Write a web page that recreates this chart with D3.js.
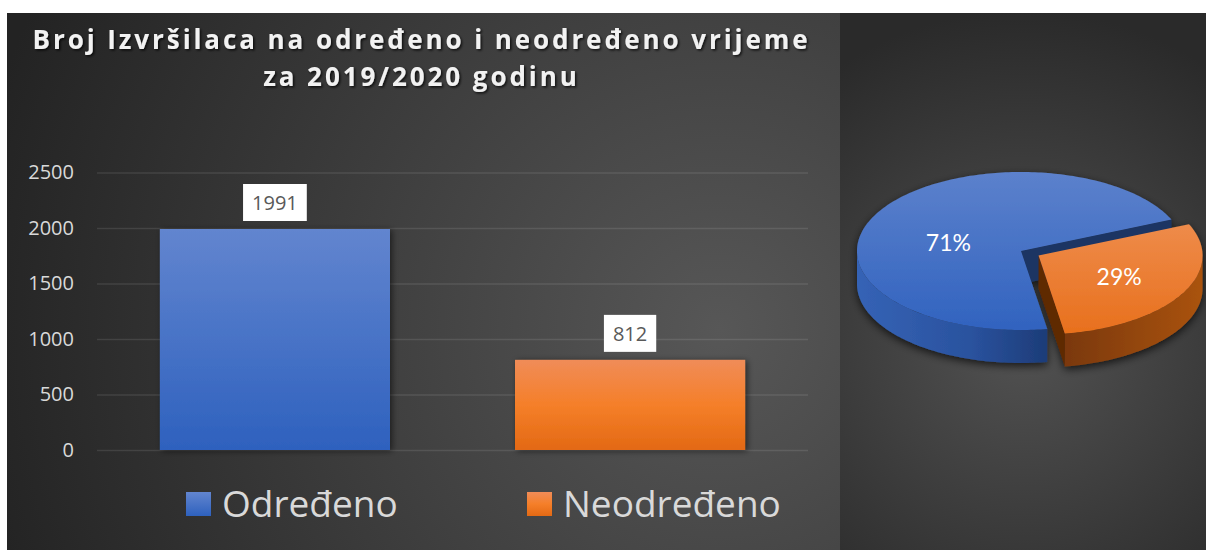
<!DOCTYPE html>
<html><head><meta charset="utf-8">
<script src="https://cdn.jsdelivr.net/npm/d3@7"></script>
<style>html,body{margin:0;padding:0;background:#fff;overflow:hidden}</style>
</head><body>
<svg id="chart" width="1206" height="550"></svg>
<script>
// ---- data ----
const titleLines = ["Broj Izvršilaca na određeno i neodređeno vrijeme", "za 2019/2020 godinu"];
const categories = ["Određeno", "Neodređeno"];
const values = [1991, 812];
const yTicks = [0, 500, 1000, 1500, 2000, 2500];
const pieLabels = ["71%", "29%"];

const svg = d3.select("#chart");
const defs = svg.append("defs");

function lin(id, stops, x2, y2) {
  const g = defs.append("linearGradient").attr("id", id)
    .attr("x1", 0).attr("y1", 0).attr("x2", x2).attr("y2", y2);
  stops.forEach(s => g.append("stop").attr("offset", s[0]).attr("stop-color", s[1]));
}
function rad(id, cx, cy, r, c0, c1) {
  const g = defs.append("radialGradient").attr("id", id).attr("gradientUnits", "userSpaceOnUse")
    .attr("cx", cx).attr("cy", cy).attr("r", r);
  g.append("stop").attr("offset", 0).attr("stop-color", c0);
  g.append("stop").attr("offset", 1).attr("stop-color", c1);
}
rad("bgL", 720, 330, 760, "#575757", "#232323");
rad("bgR", 1023, 340, 330, "#525252", "#2a2a2a");
lin("gBlue", [[0, "#6285cf"], [1, "#2e61be"]], 0, 1);
lin("gOrange", [[0, "#f08c58"], [0.5, "#f57f29"], [1, "#e36914"]], 0, 1);
lin("gBlueTop", [[0, "#5c81cc"], [1, "#3163bf"]], 0, 1);
lin("gOrangeTop", [[0, "#ee8b4a"], [1, "#e8701d"]], 0, 1);
lin("gBlueWall", [[0, "#3563b6"], [0.6, "#2a529e"], [1, "#1d3c78"]], 1, 0);
lin("gOrangeWall", [[0, "#7a380a"], [1, "#aa5310"]], 1, 0);

function shadow(id, dx, dy, sd, op) {
  const f = defs.append("filter").attr("id", id)
    .attr("x", "-20%").attr("y", "-20%").attr("width", "140%").attr("height", "140%");
  f.append("feDropShadow").attr("dx", dx).attr("dy", dy).attr("stdDeviation", sd)
    .attr("flood-color", "#000").attr("flood-opacity", op);
}
shadow("shTitle", 1.5, 1.5, 1.2, 0.75);
shadow("shBar", 2, 1, 3, 0.55);
shadow("shPie", 0, 3, 4, 0.7);

// ---- panels ----
svg.append("rect").attr("x", 7).attr("y", 13).attr("width", 833).attr("height", 537).attr("fill", "url(#bgL)");
svg.append("rect").attr("x", 840).attr("y", 13).attr("width", 366).attr("height", 537).attr("fill", "url(#bgR)");

// ---- title ----
const title = svg.append("g").attr("filter", "url(#shTitle)")
  .attr("font-family", "'Open Sans', sans-serif").attr("font-weight", 700)
  .attr("font-size", 26).attr("fill", "#f2f2f2").attr("text-anchor", "middle");
const t1 = title.append("text").attr("x", 420).attr("y", 49).text(titleLines[0]);
const w0 = t1.node().getComputedTextLength();
const ls = (775 - w0) / (titleLines[0].length - 1);
t1.attr("letter-spacing", ls).attr("x", 420 + ls / 2);
title.append("text").attr("x", 420 + ls / 2).attr("y", 86).attr("letter-spacing", ls).text(titleLines[1]);

// ---- bar chart ----
const y = d3.scaleLinear().domain([0, 2500]).range([450, 172.5]);
const x = d3.scaleBand().domain(categories).range([97, 808]).paddingInner(0.352).paddingOuter(0.177);

const axis = svg.append("g").attr("transform", "translate(97,0)")
  .call(d3.axisLeft(y).tickValues(yTicks).tickFormat(d3.format("d")).tickSize(-711).tickPadding(23));
axis.select(".domain").remove();
axis.selectAll(".tick line").attr("stroke", "#fff").attr("stroke-opacity", 0.1).attr("stroke-width", 1.6);
axis.selectAll(".tick text").attr("fill", "#d9d9d9").attr("font-size", 20)
  .attr("font-family", "'Open Sans', sans-serif");

const barFills = ["url(#gBlue)", "url(#gOrange)"];
svg.append("g").attr("filter", "url(#shBar)").selectAll("rect").data(values).join("rect")
  .attr("x", (d, i) => x(categories[i])).attr("width", x.bandwidth())
  .attr("y", d => y(d)).attr("height", d => y(0) - y(d))
  .attr("fill", (d, i) => barFills[i]);

const lbl = svg.append("g").selectAll("g").data(values).join("g");
lbl.each(function (d, i) {
  const g = d3.select(this);
  const cxl = x(categories[i]) + x.bandwidth() / 2;
  const cyl = y(d) - 8 - 18.5;
  const r = g.append("rect").attr("fill", "#fff");
  const t = g.append("text").attr("x", cxl).attr("y", cyl).attr("dy", "0.36em")
    .attr("text-anchor", "middle").attr("font-family", "'Open Sans', sans-serif")
    .attr("font-size", 20).attr("fill", "#595959").text(d);
  const w = t.node().getComputedTextLength() + 18;
  r.attr("x", cxl - w / 2).attr("y", cyl - 18.5).attr("width", w).attr("height", 37);
});

// ---- legend ----
const legFills = ["url(#gBlue)", "url(#gOrange)"];
const legX = [186, 527];
const leg = svg.append("g").selectAll("g").data(categories).join("g")
  .attr("transform", (d, i) => `translate(${legX[i]},0)`);
leg.append("rect").attr("x", 0).attr("y", 492).attr("width", 25).attr("height", 24)
  .attr("fill", (d, i) => legFills[i]);
leg.append("text").attr("x", 36).attr("y", 517).attr("font-family", "'Open Sans', sans-serif")
  .attr("font-size", 37).attr("fill", "#d9d9d9").text(d => d);

// ---- 3D pie ----
const P = { cx: 1021, cy: 251, rx: 164, ry: 79, depth: 33, explode: 20 };
const rot = 170.8 * Math.PI / 180;
const arcs = d3.pie().sort(null).startAngle(rot).endAngle(rot + 2 * Math.PI)(values);
const topFills = ["url(#gBlueTop)", "url(#gOrangeTop)"];
const wallFills = ["url(#gBlueWall)", "url(#gOrangeWall)"];
const faceFills = ["#1c3563", "#5e2906"];
const explodeIdx = 1;

function pt(th, o, dz) { return [P.cx + o[0] + P.rx * Math.sin(th), P.cy + o[1] - P.ry * Math.cos(th) + dz]; }
function arcPts(a, b, o, dz) {
  const n = Math.max(2, Math.ceil(Math.abs(b - a) / 0.02));
  return d3.range(n + 1).map(i => pt(a + (b - a) * i / n, o, dz));
}
const line = d3.line().curve(d3.curveLinear);
const pieG = svg.append("g").attr("filter", "url(#shPie)");

arcs.forEach((a, i) => {
  const mid = (a.startAngle + a.endAngle) / 2;
  const e = i === explodeIdx ? P.explode : 0;
  const o = [e * Math.sin(mid), -e * Math.cos(mid) * P.ry / P.rx];
  const apex = [P.cx + o[0], P.cy + o[1]];
  const g = pieG.append("g");
  [[a.startAngle, Math.sin(a.startAngle) < 0], [a.endAngle, Math.sin(a.endAngle) > 0]].forEach(([th, vis]) => {
    if (!vis) return;
    const r0 = pt(th, o, 0), r1 = pt(th, o, P.depth);
    g.append("path").attr("d", line([apex, r0, r1, [apex[0], apex[1] + P.depth]]) + "Z")
      .attr("fill", faceFills[i]);
  });
  for (let k = 0; k < 2; k++) {
    const lo = Math.PI / 2 + 2 * Math.PI * k, hi = 1.5 * Math.PI + 2 * Math.PI * k;
    const s = Math.max(a.startAngle, lo), t = Math.min(a.endAngle, hi);
    if (t > s) {
      const pts = arcPts(s, t, o, 0).concat(arcPts(t, s, o, P.depth));
      g.append("path").attr("d", line(pts) + "Z").attr("fill", wallFills[i]);
    }
  }
  g.append("path").attr("d", line([apex].concat(arcPts(a.startAngle, a.endAngle, o, 0))) + "Z")
    .attr("fill", topFills[i]);
});

// pie labels
const labelNudge = [[8, 13], [0, 0]];
arcs.forEach((a, i) => {
  const mid = (a.startAngle + a.endAngle) / 2;
  const e = i === explodeIdx ? P.explode : 0;
  const f = 0.56;
  const lx = P.cx + (e + f * P.rx) * Math.sin(mid) + labelNudge[i][0];
  const ly = P.cy - (e * P.ry / P.rx + f * P.ry) * Math.cos(mid) + labelNudge[i][1];
  svg.append("text").attr("x", lx).attr("y", ly).attr("dy", "0.36em").attr("text-anchor", "middle")
    .attr("font-family", "Lato, sans-serif").attr("font-size", 23).attr("fill", "#fff")
    .text(pieLabels[i]);
});
</script>
</body></html>
